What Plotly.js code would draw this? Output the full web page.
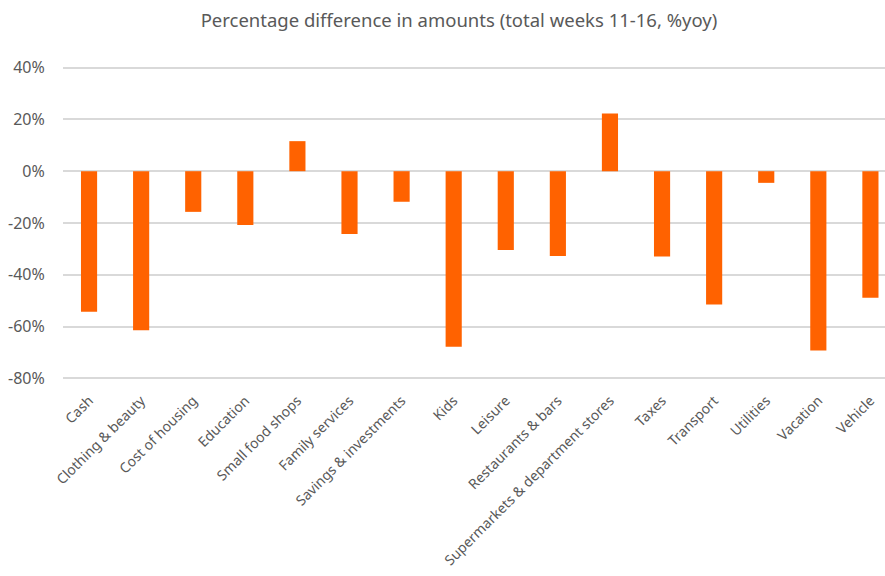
<!DOCTYPE html>
<html>
<head>
<meta charset="utf-8">
<script src="https://cdn.plot.ly/plotly-3.0.1.min.js"></script>
<style>html,body{margin:0;padding:0;background:#fff;}#chart{width:885px;height:576px;}</style>
</head>
<body>
<div id="chart"></div>
<script>
const categories = ["Cash","Clothing & beauty","Cost of housing","Education","Small food shops","Family services","Savings & investments","Kids","Leisure","Restaurants & bars","Supermarkets & department stores","Taxes","Transport","Utilities","Vacation","Vehicle"];
const values = [-54.3, -61.4, -15.7, -20.8, 11.6, -24.2, -11.8, -67.8, -30.4, -32.7, 22.3, -32.9, -51.5, -4.5, -69.2, -48.9];
const yTickVals = [40, 20, 0, -20, -40, -60, -80];
const yTickText = ["40%", "20%", "0%", "-20%", "-40%", "-60%", "-80%"];
const titleText = "Percentage difference in amounts (total weeks 11-16, %yoy)";

const font = "'Noto Sans', 'Open Sans', sans-serif";
Plotly.newPlot('chart', [{
  type: 'bar',
  x: categories,
  y: values,
  marker: {color: '#FF6200'},
  hoverinfo: 'x+y'
}], {
  width: 885, height: 576,
  margin: {l: 63, r: 0, t: 65, b: 195},
  paper_bgcolor: '#fff', plot_bgcolor: '#fff',
  bargap: 0.69,
  title: {text: titleText, x: 459/885, xref: 'container', xanchor: 'center', y: 1 - 21/576, yref: 'container', yanchor: 'middle',
          font: {family: font, size: 18.5, color: '#595959'}},
  xaxis: {
    range: [-0.5, 15.28], tickangle: -45, showgrid: false, zeroline: false, showline: false,
    ticks: 'outside', ticklen: 5, tickcolor: 'rgba(0,0,0,0)',
    tickfont: {family: font, size: 14, color: '#595959'}, automargin: false
  },
  yaxis: {
    range: [-81, 41], tickvals: yTickVals, ticktext: yTickText, showgrid: true, gridcolor: '#d9d9d9', gridwidth: 2,
    zeroline: true, zerolinecolor: '#d9d9d9', zerolinewidth: 2, showline: false,
    ticks: 'outside', ticklen: 14, tickcolor: 'rgba(0,0,0,0)',
    tickfont: {family: font, size: 16, color: '#595959'}, automargin: false
  },
  showlegend: false
}, {displayModeBar: false, staticPlot: true});
</script>
</body>
</html>
